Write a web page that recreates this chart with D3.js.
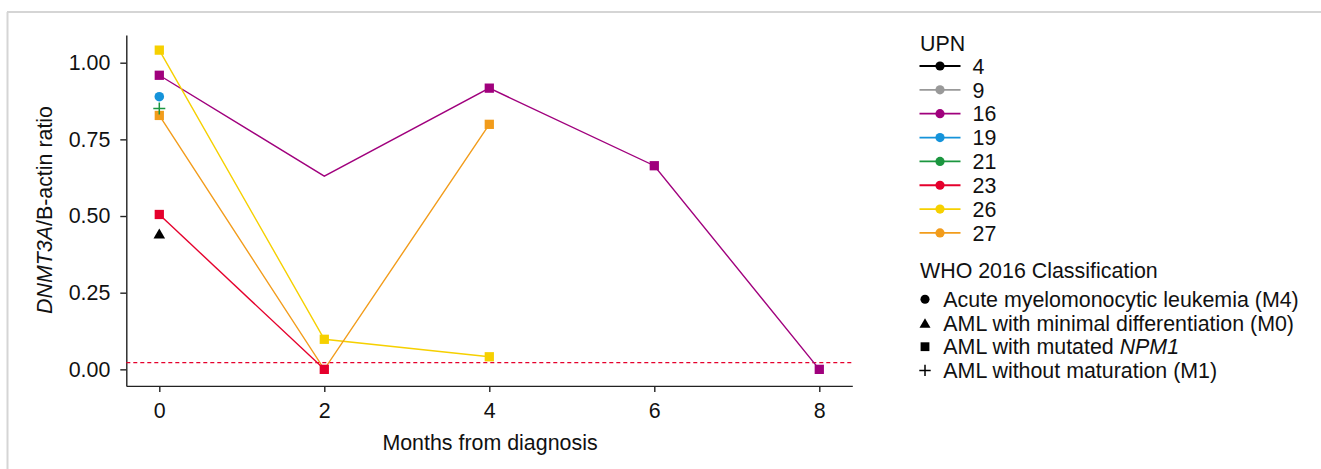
<!DOCTYPE html>
<html>
<head>
<meta charset="utf-8">
<script src="https://cdn.jsdelivr.net/npm/d3@7"></script>
<style>
  html, body { margin: 0; padding: 0; background: #fff; }
  svg { display: block; }
  text { font-family: "Liberation Sans", Arial, Helvetica, sans-serif; fill: #111; }
</style>
</head>
<body>
<svg id="chart" width="1321" height="469"></svg>
<script>
// ---------------- data ----------------
const monthTicks = [0, 2, 4, 6, 8];
const ratioTicks = [0, 0.25, 0.5, 0.75, 1];
const thresholdValue = 0.022;

const upnLabels = ["4", "9", "16", "19", "21", "23", "26", "27"];
const upnClass  = ["M0", "M4", "NPM1", "M4", "M1", "NPM1", "NPM1", "NPM1"];

// per-patient samples (month, ratio); "marked" = sample drawn with a symbol
const months4  = [0];            const values4  = [0.443];  const marked4  = [1];
const months9  = [];             const values9  = [];       const marked9  = [];
const months16 = [0, 2, 4, 6, 8]; const values16 = [0.959, 0.630, 0.917, 0.664, 0.000]; const marked16 = [1, 0, 1, 1, 1];
const months19 = [0];            const values19 = [0.889];  const marked19 = [1];
const months21 = [0];            const values21 = [0.851];  const marked21 = [1];
const months23 = [0, 2];         const values23 = [0.505, 0.000]; const marked23 = [1, 1];
const months26 = [0, 2, 4];      const values26 = [1.041, 0.098, 0.041]; const marked26 = [1, 1, 1];
const months27 = [0, 2, 4];      const values27 = [0.828, 0.000, 0.799]; const marked27 = [1, 0, 1];

const classCodes  = ["M4", "M0", "NPM1", "M1"];
const classLabels = ["Acute myelomonocytic leukemia (M4)", "AML with minimal differentiation (M0)", "AML with mutated NPM1", "AML without maturation (M1)"];

// ---------------- styles ----------------
const upnColors = ["#000000", "#999999", "#A0007D", "#1593DA", "#1B963F", "#E5002C", "#F6D000", "#F29C1B"];
const FONT = 21.4;

const seriesMonths = [months4, months9, months16, months19, months21, months23, months26, months27];
const seriesValues = [values4, values9, values16, values19, values21, values23, values26, values27];
const seriesMarked = [marked4, marked9, marked16, marked19, marked21, marked23, marked26, marked27];

const series = upnLabels.map((u, i) => ({
  upn: u,
  cls: upnClass[i],
  color: upnColors[i],
  pts: seriesMonths[i].map((m, j) => ({ m, v: seriesValues[i][j], mk: seriesMarked[i][j] }))
}));

const svg = d3.select("#chart");

// frame (top and left edges)
svg.append("line").attr("x1", 7).attr("x2", 1321).attr("y1", 12).attr("y2", 12)
  .attr("stroke", "#d5d5d5").attr("stroke-width", 2);
svg.append("line").attr("x1", 7.5).attr("x2", 7.5).attr("y1", 12).attr("y2", 469)
  .attr("stroke", "#d5d5d5").attr("stroke-width", 2);

const x = d3.scaleLinear().domain([-0.4, 8.4]).range([126.3, 852.3]);
const y = d3.scaleLinear().domain([-0.054, 1.09]).range([385.9, 35.1]);

// axes
const xAxis = svg.append("g").attr("transform", `translate(0,${385.9})`)
  .call(d3.axisBottom(x).tickValues(monthTicks).tickFormat(d3.format("d"))
    .tickSize(6).tickSizeOuter(0).tickPadding(11));
const yAxis = svg.append("g").attr("transform", `translate(${126.3},0)`)
  .call(d3.axisLeft(y).tickValues(ratioTicks).tickFormat(d3.format(".2f"))
    .tickSize(6).tickSizeOuter(0).tickPadding(10));
[xAxis, yAxis].forEach(a => {
  a.selectAll("path.domain").attr("stroke", "#222").attr("stroke-width", 1.4);
  a.selectAll(".tick line").attr("stroke", "#222").attr("stroke-width", 1.4);
  a.selectAll(".tick text").attr("font-size", FONT).attr("fill", "#111")
    .attr("font-family", "Liberation Sans, Arial, sans-serif");
});

// threshold
svg.append("line")
  .attr("x1", x(-0.4)).attr("x2", x(8.4))
  .attr("y1", y(thresholdValue)).attr("y2", y(thresholdValue))
  .attr("stroke", "#E5002C").attr("stroke-width", 1.4).attr("stroke-dasharray", "4,3");

// symbols
function symPath(cls, scale) {
  const s = scale || 1;
  if (cls === "M4") return d3.symbol(d3.symbolCircle, 72 * s * s)();
  if (cls === "M0") return d3.symbol(d3.symbolTriangle, 58 * s * s)();
  if (cls === "NPM1") return d3.symbol(d3.symbolSquare, 86 * s * s)();
  return null;
}
function drawSymbol(g, cls, cx, cy, color, scale) {
  const s = scale || 1;
  if (cls === "M1") {
    const a = 6 * s;
    g.append("path")
      .attr("d", `M${cx - a},${cy}H${cx + a}M${cx},${cy - a}V${cy + a}`)
      .attr("stroke", color).attr("stroke-width", 1.5).attr("fill", "none");
  } else {
    const dy = cls === "M0" ? 1.6 * s : 0;
    g.append("path").attr("d", symPath(cls, s))
      .attr("transform", `translate(${cx},${cy + dy})`)
      .attr("fill", color);
  }
}

const line = d3.line().x(d => x(d.m)).y(d => y(d.v));
const plot = svg.append("g");
series.forEach(s => {
  if (s.pts.length > 1) {
    plot.append("path").datum(s.pts).attr("d", line)
      .attr("fill", "none").attr("stroke", s.color).attr("stroke-width", 1.4);
  }
});
// markers drawn in reverse order so earlier series sit on top
series.slice().reverse().forEach(s => {
  s.pts.filter(p => p.mk).forEach(p => drawSymbol(plot, s.cls, x(p.m), y(p.v), s.color));
});

// axis titles
const yTitle = svg.append("text")
  .attr("transform", "translate(52,210) rotate(-90)")
  .attr("text-anchor", "middle").attr("font-size", FONT);
yTitle.append("tspan").attr("font-style", "italic").text("DNMT3A");
yTitle.append("tspan").text("/B-actin ratio");

svg.append("text").attr("x", 490).attr("y", 450)
  .attr("text-anchor", "middle").attr("font-size", FONT).text("Months from diagnosis");

// legend: UPN
const leg = svg.append("g");
leg.append("text").attr("x", 920).attr("y", 50.7).attr("font-size", FONT).text("UPN");
upnLabels.forEach((u, i) => {
  const cy = 66 + i * 23.85;
  leg.append("line").attr("x1", 919.5).attr("x2", 960.5).attr("y1", cy).attr("y2", cy)
    .attr("stroke", upnColors[i]).attr("stroke-width", 1.8);
  leg.append("circle").attr("cx", 940).attr("cy", cy).attr("r", 4.6).attr("fill", upnColors[i]);
  leg.append("text").attr("x", 972.5).attr("y", cy).attr("dy", "0.36em")
    .attr("font-size", FONT).text(u);
});

// legend: WHO classification
leg.append("text").attr("x", 920).attr("y", 278.3).attr("font-size", FONT).text("WHO 2016 Classification");
classCodes.forEach((c, i) => {
  const cy = 299.3 + i * 23.7;
  drawSymbol(leg, c, 925, cy, "#000", 0.95);
  const t = leg.append("text").attr("x", 943.3).attr("y", cy).attr("dy", "0.36em").attr("font-size", FONT);
  const lbl = classLabels[i];
  if (lbl.endsWith("NPM1")) {
    t.append("tspan").text(lbl.slice(0, -4));
    t.append("tspan").attr("font-style", "italic").text("NPM1");
  } else {
    t.text(lbl);
  }
});
</script>
</body>
</html>
